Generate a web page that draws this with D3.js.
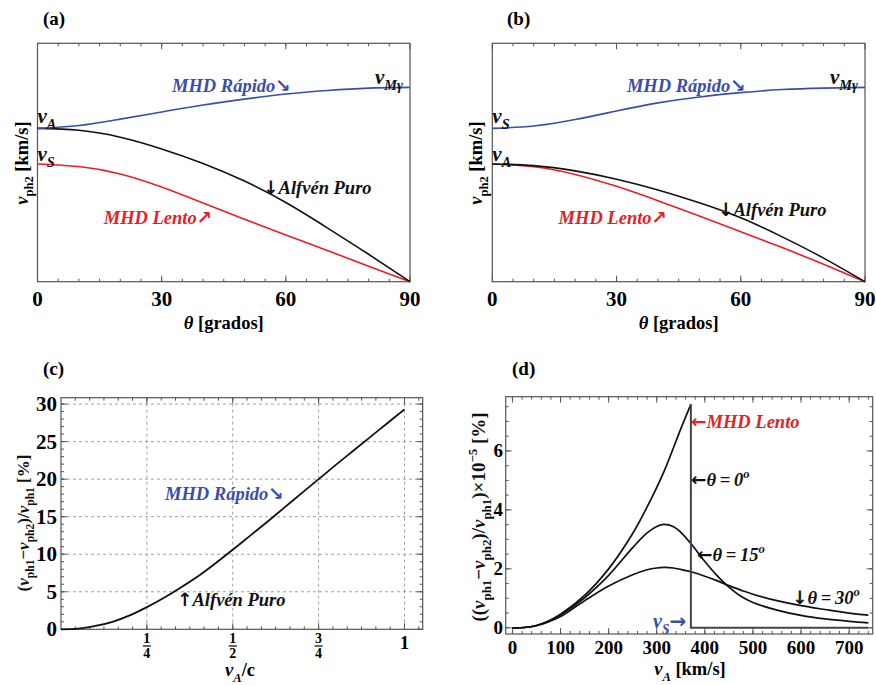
<!DOCTYPE html>
<html>
<head>
<meta charset="utf-8">
<script src="https://cdn.jsdelivr.net/npm/d3@7"></script>
<style>
  body { margin: 0; background: #fff; }
  text { font-family: "Liberation Serif", "Times New Roman", serif; font-weight: bold; }
</style>
</head>
<body>
<div id="chart"></div>
<script>

// ---- data ----
// (a) and (b): phase speed vs angle (arbitrary units, 0..1)
var theta = [0, 10, 20, 30, 40, 50, 60, 70, 80, 90]
var aRapido = [0.643, 0.655, 0.682, 0.712, 0.741, 0.766, 0.787, 0.802, 0.812, 0.815]
var aAlfven = [0.643, 0.635, 0.606, 0.557, 0.496, 0.422, 0.332, 0.226, 0.115, 0]
var aLento  = [0.494, 0.483, 0.452, 0.397, 0.330, 0.262, 0.196, 0.131, 0.065, 0]
var bRapido = [0.643, 0.653, 0.680, 0.716, 0.750, 0.775, 0.793, 0.806, 0.812, 0.815]
var bAlfven = [0.494, 0.487, 0.465, 0.430, 0.385, 0.331, 0.268, 0.188, 0.099, 0]
var bLento  = [0.494, 0.482, 0.450, 0.400, 0.340, 0.276, 0.210, 0.143, 0.073, 0]
var abTicks = [0, 30, 60, 90]

// (c): relative difference vs vA/c
var cX = [0, 0.05, 0.1, 0.15, 0.2, 0.25, 0.3, 0.35, 0.4, 0.45, 0.5, 0.55, 0.6, 0.65, 0.7, 0.75, 0.8, 0.85, 0.9, 0.95, 1]
var cY = [0, 0.1, 0.45, 1.0, 1.85, 2.95, 4.2, 5.6, 7.1, 8.8, 10.6, 12.45, 14.3, 16.2, 18.1, 20.0, 21.9, 23.75, 25.6, 27.45, 29.3]
var cYTicks = [0, 5, 10, 15, 20, 25, 30]
var cXTicks = [0.25, 0.5, 0.75, 1]
var cXLabels = [["1", "4"], ["1", "2"], ["3", "4"], ["1"]]

// (d): relative difference (x1e-5 %) vs vA [km/s]
var dX0   = [0, 25, 50, 75, 100, 150, 200, 250, 280, 315, 350, 371]
var dTh0  = [0, 0.01, 0.08, 0.23, 0.46, 1.1, 2.0, 3.2, 4.1, 5.3, 6.75, 7.58]
var dDropX = [371, 371, 740]
var dDropY = [7.58, 0, 0]
var dX    = [0, 25, 50, 75, 100, 150, 200, 250, 280, 300, 315, 335, 350, 371, 400, 425, 450, 475, 500, 550, 600, 650, 700, 740]
var dTh15 = [0, 0.01, 0.08, 0.22, 0.44, 1.02, 1.78, 2.72, 3.22, 3.44, 3.51, 3.43, 3.24, 2.86, 2.25, 1.78, 1.38, 1.07, 0.86, 0.6, 0.42, 0.3, 0.22, 0.17]
var dTh30 = [0, 0.01, 0.07, 0.2, 0.38, 0.92, 1.42, 1.8, 1.97, 2.03, 2.05, 2.03, 1.98, 1.9, 1.75, 1.6, 1.43, 1.28, 1.14, 0.92, 0.75, 0.62, 0.5, 0.43]
var dXTicks = [0, 100, 200, 300, 400, 500, 600, 700]
var dYTicks = [0, 2, 4, 6]

var blue = "#3b4ea6"
var red = "#e32227"
var frameColor = "#555"

var svg = d3.select("#chart")
  .append("svg")
    .attr("width", 876)
    .attr("height", 685)

// text with pieces: [text, mode, italic]; mode "", "sub", "sup" or "arr" (arrow glyph)
function rich(g, x, y, pieces, color, size) {
  size = size || 18.5
  var t = g.append("text")
    .attr("x", x).attr("y", y)
    .attr("fill", color || "#000")
    .style("font-size", size + "px")
  var shift = 0
  pieces.forEach(function(p) {
    var s = t.append("tspan").text(p[0])
    var target = p[1] == "sub" ? 0.3 : p[1] == "sup" ? -0.42 : 0
    var small = p[1] == "sub" || p[1] == "sup"
    s.attr("dy", ((target - shift) * size) + "px")
    shift = target
    s.style("font-size", (small ? size * 0.68 : size) + "px")
    if (p[1] == "arr") s.style("font-family", "'DejaVu Sans', sans-serif").style("font-weight", "bold")
    if (p[2]) s.style("font-style", "italic")
  })
  return t
}

function frame(x0, x1, y0, y1) {
  svg.append("rect")
    .attr("x", x0).attr("y", y0)
    .attr("width", x1 - x0).attr("height", y1 - y0)
    .attr("fill", "none")
    .attr("stroke", frameColor)
    .attr("stroke-width", 1.2)
}

function xTickMarks(x, vals, y0, y1, len) {
  vals.forEach(function(v) {
    svg.append("line").attr("x1", x(v)).attr("x2", x(v)).attr("y1", y1).attr("y2", y1 - len)
      .attr("stroke", frameColor).attr("stroke-width", 1)
    svg.append("line").attr("x1", x(v)).attr("x2", x(v)).attr("y1", y0).attr("y2", y0 + len)
      .attr("stroke", frameColor).attr("stroke-width", 1)
  })
}

function yTickMarks(y, vals, x0, x1, len) {
  vals.forEach(function(v) {
    svg.append("line").attr("y1", y(v)).attr("y2", y(v)).attr("x1", x0).attr("x2", x0 + len)
      .attr("stroke", frameColor).attr("stroke-width", 1)
    svg.append("line").attr("y1", y(v)).attr("y2", y(v)).attr("x1", x1).attr("x2", x1 - len)
      .attr("stroke", frameColor).attr("stroke-width", 1)
  })
}

function curve(x, y, xs, ys, color, w, kind) {
  var line = d3.line()
    .x(function(d) { return x(d[0]) })
    .y(function(d) { return y(d[1]) })
    .curve(kind || d3.curveNatural)
  svg.append("path")
    .datum(xs.map(function(v, i) { return [v, ys[i]] }))
    .attr("d", line)
    .attr("fill", "none")
    .attr("stroke", color)
    .attr("stroke-width", w || 1.6)
}

// ---- panels (a) and (b) ----
function panelAB(left, right, rapido, alfven, lento, letter, letterX, lowLabel, highLabel, alfY) {
  var x = d3.scaleLinear().domain([0, 90]).range([left, right])
  var y = d3.scaleLinear().domain([0, 1]).range([281.7, 43.3])
  frame(left, right, 43.3, 281.7)
  xTickMarks(x, d3.range(5, 90, 5), 43.3, 281.7, 3)
  xTickMarks(x, abTicks, 43.3, 281.7, 6)

  curve(x, y, theta, lento, red)
  curve(x, y, theta, alfven, "#111")
  curve(x, y, theta, rapido, blue)

  abTicks.forEach(function(v) {
    svg.append("text").attr("x", x(v)).attr("y", 306).attr("text-anchor", "middle")
      .style("font-size", "21px").text(v)
  })
  var xt = rich(svg, x(45), 329, [["θ", "", true], [" [grados]", ""]])
  xt.attr("text-anchor", "middle")

  var yt = rich(svg, 0, 0, [["v", "", true], ["ph2", "sub"], [" [km/s]", ""]])
  yt.attr("text-anchor", "middle")
    .attr("transform", "translate(" + (left - 10) + ",163) rotate(-90)")

  svg.append("text").attr("x", letterX).attr("y", 25).style("font-size", "19px").text(letter)

  rich(svg, left, 123, [["v", "", true], [highLabel, "sub", true]], "#111", 21)
  rich(svg, left, 161, [["v", "", true], [lowLabel, "sub", true]], "#111", 21)
  rich(svg, right - 35, 84, [["v", "", true], ["Mγ", "sub", true]], "#111", 21)
  rich(svg, x(32.5), 92, [["MHD Rápido", "", true], ["↘", "arr"]], blue)
  rich(svg, x(54.5), alfY, [["↓", "arr"], ["Alfvén Puro", "", true]], "#111")
  rich(svg, x(16), 224, [["MHD Lento", "", true], ["↗", "arr"]], red)
}

panelAB(37.5, 410, aRapido, aAlfven, aLento, "(a)", 43, "S", "A", 194)
panelAB(492.3, 865, bRapido, bAlfven, bLento, "(b)", 507, "A", "S", 216)

// ---- panel (c) ----
var xc = d3.scaleLinear().domain([0, 1.053]).range([61, 422.7])
var yc = d3.scaleLinear().domain([0, 30.85]).range([629.3, 397.7])

cXTicks.forEach(function(v) {
  svg.append("line").attr("x1", xc(v)).attr("x2", xc(v)).attr("y1", 397.7).attr("y2", 629.3)
    .attr("stroke", "#8a8a8a").attr("stroke-width", 0.8).attr("stroke-dasharray", "3,3")
})
cYTicks.slice(1).forEach(function(v) {
  svg.append("line").attr("x1", 61).attr("x2", 422.7).attr("y1", yc(v)).attr("y2", yc(v))
    .attr("stroke", "#8a8a8a").attr("stroke-width", 0.8).attr("stroke-dasharray", "3,3")
})
frame(61, 422.7, 397.7, 629.3)
xTickMarks(xc, d3.range(1, 26).map(function(i) { return i / 24 }), 397.7, 629.3, 3)
xTickMarks(xc, cXTicks, 397.7, 629.3, 6)
yTickMarks(yc, d3.range(1, 31), 61, 422.7, 3)
yTickMarks(yc, cYTicks, 61, 422.7, 6)

curve(xc, yc, cX, cY, "#111", 1.8, d3.curveMonotoneX)

cYTicks.forEach(function(v) {
  svg.append("text").attr("x", 57).attr("y", yc(v) + 7).attr("text-anchor", "end")
    .style("font-size", "21px").text(v)
})
cXTicks.forEach(function(v, i) {
  var lab = cXLabels[i]
  if (lab.length == 2) {
    svg.append("text").attr("x", xc(v)).attr("y", 643).attr("text-anchor", "middle")
      .style("font-size", "14px").text(lab[0])
    svg.append("line").attr("x1", xc(v) - 4).attr("x2", xc(v) + 4).attr("y1", 646).attr("y2", 646)
      .attr("stroke", "#000").attr("stroke-width", 1.2)
    svg.append("text").attr("x", xc(v)).attr("y", 658).attr("text-anchor", "middle")
      .style("font-size", "14px").text(lab[1])
  } else {
    svg.append("text").attr("x", xc(v)).attr("y", 649).attr("text-anchor", "middle")
      .style("font-size", "19px").text(lab[0])
  }
})
rich(svg, 240, 676, [["v", "", true], ["A", "sub", true], ["/c", ""]]).attr("text-anchor", "middle")
rich(svg, 0, 0, [["(", ""], ["v", "", true], ["ph1", "sub"], ["−", ""], ["v", "", true], ["ph2", "sub"],
    [")/", ""], ["v", "", true], ["ph1", "sub"], [" [%]", ""]], "#111", 17)
  .attr("text-anchor", "middle")
  .attr("transform", "translate(29,523) rotate(-90)")
svg.append("text").attr("x", 43).attr("y", 375).style("font-size", "19px").text("(c)")

rich(svg, 165, 500, [["MHD Rápido", "", true], ["↘", "arr"]], blue)
rich(svg, 177, 606, [["↑", "arr"], ["Alfvén Puro", "", true]], "#111")

// ---- panel (d) ----
var xd = d3.scaleLinear().domain([-14, 749]).range([505.7, 872.7])
var yd = d3.scaleLinear().domain([-0.21, 7.84]).range([634, 396.7])

frame(505.7, 872.7, 396.7, 634)
xTickMarks(xd, d3.range(0, 741, 20), 396.7, 634, 3)
xTickMarks(xd, dXTicks, 396.7, 634, 6)
yTickMarks(yd, d3.range(0, 7.6, 0.5), 505.7, 872.7, 3)
yTickMarks(yd, dYTicks, 505.7, 872.7, 6)

curve(xd, yd, dX, dTh30, "#111", 1.7, d3.curveCatmullRom)
curve(xd, yd, dX, dTh15, "#111", 1.7, d3.curveCatmullRom)
curve(xd, yd, dX0, dTh0, "#111", 1.7, d3.curveCatmullRom)
curve(xd, yd, dDropX, dDropY, "#444", 2, d3.curveLinear)

dXTicks.forEach(function(v) {
  svg.append("text").attr("x", xd(v)).attr("y", 654).attr("text-anchor", "middle")
    .style("font-size", "19px").text(v)
})
dYTicks.forEach(function(v) {
  svg.append("text").attr("x", 503).attr("y", yd(v) + 6).attr("text-anchor", "end")
    .style("font-size", "19px").text(v)
})
rich(svg, 690, 675, [["v", "", true], ["A", "sub", true], [" [km/s]", ""]]).attr("text-anchor", "middle")
rich(svg, 0, 0, [["((", ""], ["v", "", true], ["ph1", "sub"], ["−", ""], ["v", "", true], ["ph2", "sub"],
    [")/", ""], ["v", "", true], ["ph1", "sub"], [")×10", ""], ["−5", "sup"], [" [%]", ""]], "#111", 19)
  .attr("text-anchor", "middle")
  .attr("transform", "translate(485,517) rotate(-90)")
svg.append("text").attr("x", 512).attr("y", 375).style("font-size", "19px").text("(d)")

rich(svg, 691, 428, [["←", "arr"], ["MHD Lento", "", true]], red)
rich(svg, 691, 486, [["←", "arr"], ["θ\u2009=\u20090", "", true], ["o", "sup", true]], "#111")
rich(svg, 697, 561, [["←", "arr"], ["θ\u2009=\u200915", "", true], ["o", "sup", true]], "#111")
rich(svg, 792, 604, [["↓", "arr"], ["θ\u2009=\u200930", "", true], ["o", "sup", true]], "#111")
rich(svg, 653, 628, [["v", "", true], ["S", "sub", true], ["→", "arr"]], blue, 20)

</script>
</body>
</html>
